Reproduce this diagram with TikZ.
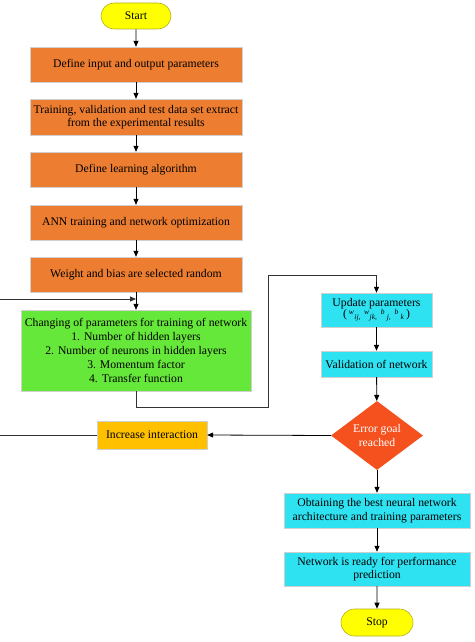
\documentclass[tikz,border=0pt]{standalone}
\usepackage{fontspec}
\setmainfont{Liberation Serif}
\usetikzlibrary{arrows.meta,shapes.geometric,shapes.misc}
\definecolor{boxorange}{HTML}{ED7D31}
\definecolor{boxgreen}{HTML}{66E83A}
\definecolor{boxcyan}{HTML}{2FE2F2}
\definecolor{boxgold}{HTML}{FFC000}
\definecolor{boxred}{HTML}{F4511E}
\definecolor{termyellow}{HTML}{FFFF00}
\definecolor{termedge}{HTML}{B5B020}
\definecolor{edgegray}{HTML}{D0D0D0}
\definecolor{linegray}{HTML}{333333}
\newcommand{\updsym}[2]{\raisebox{3.5pt}{#1}\hspace{0.5pt}\raisebox{-2pt}{#2}}
\begin{document}
\begin{tikzpicture}[x=1pt,y=-1pt,
  every node/.style={font=\fontsize{11.7}{13.5}\selectfont, text=black, inner sep=0pt, align=center},
  terminal/.style={rounded rectangle, fill=termyellow, draw=termedge, line width=0.6pt, minimum width=70pt, minimum height=26pt},
  obox/.style={rectangle, fill=boxorange, draw=edgegray, line width=0.4pt, minimum width=212pt, minimum height=35pt},
  gbox/.style={rectangle, fill=boxgreen, draw=edgegray, line width=0.4pt, minimum width=230pt, minimum height=81pt, font=\fontsize{11.7}{14}\selectfont},
  cbox/.style={rectangle, fill=boxcyan, draw=edgegray, line width=0.4pt},
  flow/.style={draw=black, line width=0.8pt, -{Triangle[length=6pt,width=5pt]}},
  loopline/.style={draw=linegray, line width=0.8pt}
]
\useasboundingbox (0,0) rectangle (474,642);
\fill[white] (0,0) rectangle (474,642);

\node[terminal] (start) at (136,16) {Start};
\node[obox] (b1) at (136,64.5) {Define input and output parameters};
\node[obox, minimum height=36pt] (b2) at (136,117) {Training, validation and test data set extract\\from the experimental results};
\node[obox] (b3) at (136,169.5) {Define learning algorithm};
\node[obox] (b4) at (136,222.5) {ANN training and network optimization};
\node[obox] (b5) at (136,274.5) {Weight and bias are selected random};
\node[gbox] (chg) at (136,350.5) {Changing of parameters for training of network\\1. Number of hidden layers\\2. Number of neurons in hidden layers\\3. Momentum factor\\4. Transfer function};

\node[cbox, minimum width=111pt, minimum height=34pt, font=\fontsize{11.7}{12}\selectfont] (upd) at (376.5,310) {Update parameters\\[-1pt]{(\,{\fontsize{7.5}{8}\selectfont\itshape\updsym{w}{ij,}\ \ \updsym{w}{jk,}\ \ \updsym{b}{\ j,}\ \ \updsym{b}{\ k}}\,)}};
\node[cbox, minimum width=111pt, minimum height=26pt] (val) at (376.5,364) {Validation of network};
\node[diamond, fill=boxred, minimum width=92pt, minimum height=69pt, aspect=1.33] (err) at (377,435.5) {\textcolor{white}{Error goal}\\\textcolor{white}{reached}};
\node[rectangle, fill=boxgold, draw=edgegray, line width=0.4pt, minimum width=110pt, minimum height=28pt] (inc) at (152,435) {Increase interaction};
\node[cbox, minimum width=186pt, minimum height=35pt] (obt) at (377,510.5) {Obtaining the best neural network\\architecture and training parameters};
\node[cbox, minimum width=186pt, minimum height=34pt] (rdy) at (377,569) {Network is ready for performance\\prediction};
\node[terminal, minimum width=72pt, minimum height=27pt] (stop) at (377,622.5) {Stop};

\draw[flow] (start) -- (b1);
\draw[flow] (b1) -- (b2);
\draw[flow] (b2) -- (b3);
\draw[flow] (b3) -- (b4);
\draw[flow] (b4) -- (b5);
\draw[flow] (b5) -- (chg);

\coordinate (gdown) at (136,407);
\coordinate (gright) at (268,407);
\coordinate (gtop) at (268,275);
\coordinate (uin) at (376.5,282);
\draw[loopline] (chg.south) -- (gdown) -- (gright) -- (gtop) -| (uin);
\draw[flow] (uin) -- (upd.north);

\draw[flow] (upd) -- (val);
\draw[flow] (val) -- (err);
\draw[flow] (err.west) -- (inc.east);
\draw[flow] (err.south) -- (obt.north);
\draw[flow] (obt) -- (rdy);
\draw[flow] (rdy) -- (stop);

\coordinate (lbot) at (0,435);
\coordinate (ltop) at (0,299);
\coordinate (jn) at (136,299);
\draw[loopline] (inc.west) -- (lbot);
\draw[loopline, -{Triangle[length=6pt,width=5pt]}] (ltop) -- (jn);
\end{tikzpicture}
\end{document}
